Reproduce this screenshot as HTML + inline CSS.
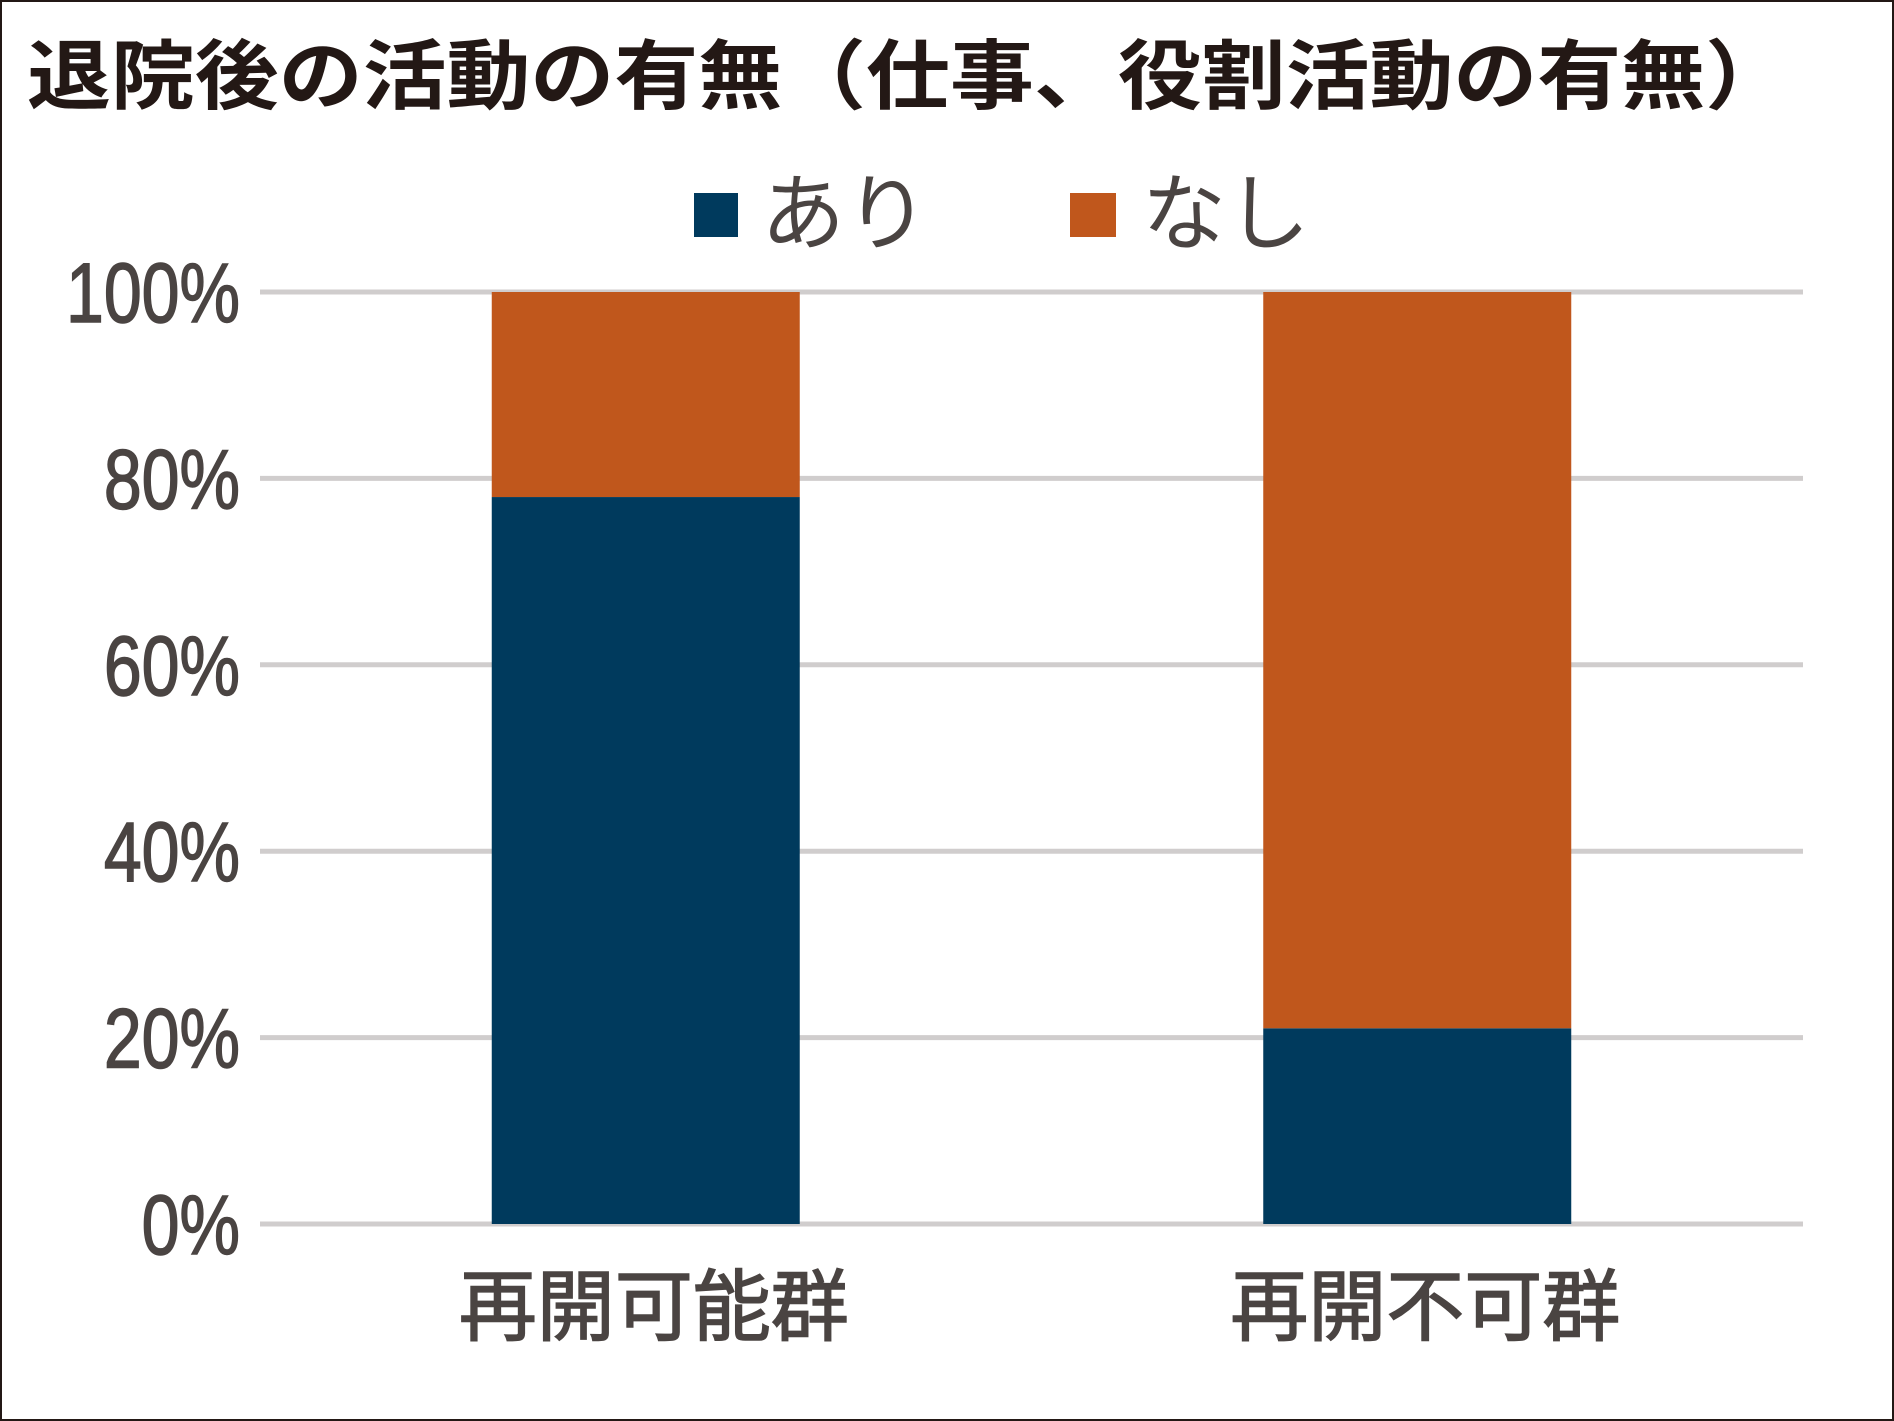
<!DOCTYPE html>
<html><head><meta charset="utf-8"><style>
html,body{margin:0;padding:0;background:#fff}
svg{display:block}
</style></head><body>
<svg width="1894" height="1421" viewBox="0 0 1894 1421" xmlns="http://www.w3.org/2000/svg">
<rect x="1" y="1" width="1892" height="1419" fill="#fff" stroke="#231815" stroke-width="2"/>
<text x="27" y="103" font-family="'Liberation Sans','Noto Sans CJK JP',sans-serif" font-weight="bold" font-size="76" fill="#231815" textLength="1762" lengthAdjust="spacingAndGlyphs">退院後の活動の有無（仕事、役割活動の有無）</text>
<g>
<rect x="694" y="193" width="44" height="44" fill="#003a5d"/>
<text x="761" y="243" font-family="'Liberation Sans','Noto Sans CJK JP',sans-serif" font-size="84" fill="#4a4442">あり</text>
<rect x="1070" y="193" width="46" height="44" fill="#c0571c"/>
<text x="1142" y="243" font-family="'Liberation Sans','Noto Sans CJK JP',sans-serif" font-size="84" fill="#4a4442">なし</text>
</g>
<g id="grid"></g>
<g id="bars"></g>
<g id="labels"></g>
</svg>
<script>
const categories = ["再開可能群", "再開不可群"];
const ariValues = [78, 21];
const nashiValues = [22, 79];
const tickValues = [0, 20, 40, 60, 80, 100];
const tickLabels = ["0%", "20%", "40%", "60%", "80%", "100%"];

const NS = "http://www.w3.org/2000/svg";
const plotLeft = 260, plotRight = 1803, yTop = 292, yBottom = 1224;
const y = v => yBottom - (v / 100) * (yBottom - yTop);
const bandW = (plotRight - plotLeft) / categories.length;
const xCenter = i => plotLeft + bandW * (i + 0.5);
const barW = 308;
const fontStack = "'Liberation Sans','Noto Sans CJK JP',sans-serif";

const grid = document.getElementById('grid');
tickValues.forEach((t, i) => {
  const l = document.createElementNS(NS, 'line');
  l.setAttribute('x1', plotLeft); l.setAttribute('x2', plotRight);
  l.setAttribute('y1', y(t)); l.setAttribute('y2', y(t));
  l.setAttribute('stroke', '#d0cdcd'); l.setAttribute('stroke-width', '5');
  
  
  grid.appendChild(l);
  const tx = document.createElementNS(NS, 'text');
  tx.setAttribute('x', 0); tx.setAttribute('y', 0);
  tx.setAttribute('transform', `translate(240 ${y(t) + 30}) scale(0.81 1)`);
  tx.setAttribute('text-anchor', 'end');
  tx.setAttribute('font-family', fontStack);
  tx.setAttribute('font-size', '84');
  tx.setAttribute('fill', '#4a4442');
  tx.setAttribute('stroke', '#4a4442');
  tx.setAttribute('stroke-width', '1.5');
  tx.textContent = tickLabels[i];
  
  
  grid.appendChild(tx);
});

const bars = document.getElementById('bars');
categories.forEach((c, i) => {
  const x0 = xCenter(i) - barW / 2;
  const a = document.createElementNS(NS, 'rect');
  a.setAttribute('x', x0); a.setAttribute('width', barW);
  a.setAttribute('y', y(ariValues[i])); a.setAttribute('height', y(0) - y(ariValues[i]));
  a.setAttribute('fill', '#003a5d');
  
  
  bars.appendChild(a);
  const n = document.createElementNS(NS, 'rect');
  const top = ariValues[i] + nashiValues[i];
  n.setAttribute('x', x0); n.setAttribute('width', barW);
  n.setAttribute('y', y(top)); n.setAttribute('height', y(ariValues[i]) - y(top));
  n.setAttribute('fill', '#c0571c');
  
  
  bars.appendChild(n);
  const lb = document.createElementNS(NS, 'text');
  lb.setAttribute('x', xCenter(i) + 8); lb.setAttribute('y', 1334);
  lb.setAttribute('text-anchor', 'middle');
  lb.setAttribute('font-family', fontStack);
  lb.setAttribute('font-size', '78');
  lb.setAttribute('fill', '#4a4442');
  lb.setAttribute('stroke', '#4a4442');
  lb.setAttribute('stroke-width', '1.5');
  lb.textContent = c;
  
  
  document.getElementById('labels').appendChild(lb);
});
</script>
</body></html>
